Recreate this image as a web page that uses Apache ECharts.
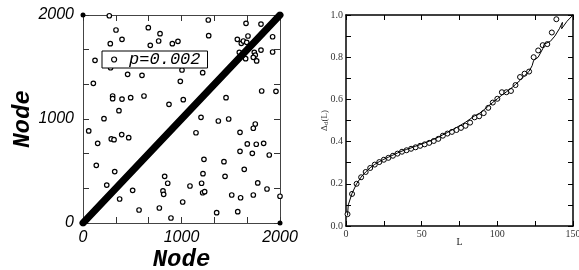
<!DOCTYPE html>
<html>
<head>
<meta charset="utf-8">
<script src="https://cdn.jsdelivr.net/npm/echarts@6.0.0/dist/echarts.min.js"></script>
<style>
html,body{margin:0;padding:0;background:#fff;}
#chart{width:579px;height:270px;}
</style>
</head>
<body>
<div id="chart"></div>
<script>
// left panel: shortcut links (node i -> node j) and the ring diagonal
var diagonal = [[0, 0], [2000, 2000]];
var cornerDots = [[0, 2000], [2000, 0]];
var shortcutPairs = [
  [267,1993],[335,1856],[663,1878],[782,1820],[1272,1952],[1276,1801],[1655,1920],[1807,1913],
  [396,1766],[277,1724],[683,1708],[768,1750],[907,1724],[964,1747],[1567,1766],[1607,1728],
  [1628,1750],[1662,1737],[1675,1798],[1587,1641],[1651,1580],[1739,1641],[1749,1615],[1729,1593],
  [1763,1558],[1807,1663],[1925,1791],[1925,1644],[122,1564],[280,1493],[453,1430],[599,1420],
  [1005,1471],[988,1362],[1215,1445],[105,1343],[301,1221],[301,1195],[396,1192],[484,1205],
  [619,1221],[1018,1186],[873,1141],[365,1080],[1452,1205],[1814,1269],[1959,1266],[213,1003],
  [1198,1016],[1374,981],[1479,1000],[1749,952],[1729,911],[1594,872],[58,885],[393,850],
  [1147,868],[149,766],[287,808],[315,801],[464,820],[135,555],[322,494],[241,365],
  [372,231],[504,314],[569,125],[775,144],[829,449],[860,382],[812,308],[819,276],
  [893,48],[1012,202],[1086,356],[1228,612],[1218,474],[1204,382],[1215,291],[1235,301],
  [1357,99],[1431,590],[1442,449],[1510,269],[1594,689],[1668,760],[1637,516],[1600,243],
  [1571,109],[1719,670],[1759,757],[1834,766],[1774,385],[1729,269],[1868,327],[1891,654],
  [2000,257]
];
var nodeLabels = [0, 1000, 2000];

// right panel: Delta_d(L)
var circleL = [1,4,7,10,13,16,19,22,25,28,31,34,37,40,43,46,49,52,55,58,61,64,67,70,73,76,79,82,85,88,
  91,94,97,100,103,106,109,112,115,118,121,124,127,130,133,136,139];
var circleDelta = [0.056,0.152,0.200,0.231,0.256,0.275,0.291,0.303,0.314,0.323,0.333,0.343,0.352,0.359,
  0.366,0.373,0.380,0.387,0.394,0.403,0.413,0.428,0.438,0.446,0.455,0.465,0.475,0.490,0.515,0.520,
  0.535,0.560,0.585,0.603,0.634,0.634,0.640,0.668,0.706,0.722,0.732,0.800,0.832,0.857,0.862,0.917,0.980];
var curveL = [1,1.5,4,7,10,13,16,19,22,25,28,31,34,37,40,43,46,49,52,55,58,61,64,67,70,73,76,79,82,85,86,
  88,91,94,97,100,103,106,109,112,115,118,121,123,124,125,127,130,131,132,135,138,141,143,142.5,146,150];
var curveDelta = [0.05,0.1,0.155,0.2,0.232,0.256,0.276,0.292,0.305,0.316,0.326,0.336,0.346,0.355,0.363,
  0.37,0.378,0.386,0.394,0.402,0.411,0.421,0.432,0.443,0.455,0.467,0.479,0.492,0.507,0.522,0.53,
  0.533,0.55,0.568,0.586,0.603,0.62,0.636,0.652,0.671,0.69,0.712,0.733,0.76,0.785,0.78,0.8,0.84,0.862,
  0.855,0.875,0.9,0.935,0.965,0.935,0.97,1.0];
var lLabels = [0, 50, 100, 150];
var deltaLabels = [0, 0.2, 0.4, 0.6, 0.8, 1.0];

function zip(a, b) {
  return a.map(function (v, i) { return [v, b[i]]; });
}

// only print a label when the tick sits on one of the listed values
function pick(list, digits) {
  return function (v) {
    for (var i = 0; i < list.length; i++) {
      if (Math.abs(v - list[i]) < 1e-6 * Math.max(1, Math.abs(list[i]))) {
        return digits ? list[i].toFixed(digits) : String(list[i]);
      }
    }
    return '';
  };
}

var chart = echarts.init(document.getElementById('chart'));

var leftLabel = {fontFamily: 'Liberation Sans', fontStyle: 'italic', fontSize: 16, color: '#000'};
var nodeName = {fontFamily: 'Liberation Mono', fontWeight: 'bold', fontStyle: 'italic', fontSize: 24, color: '#000'};
var rightLabel = {fontFamily: 'Liberation Serif', fontSize: 10, color: '#333'};

function leftAxis(extra) {
  var base = {
    type: 'value', gridIndex: 0, min: 0, max: 2000, interval: 2000 / 6,
    splitLine: {show: false},
    axisLine: {show: true, onZero: false, lineStyle: {color: '#444', width: 1}},
    axisTick: {show: true, inside: true, length: 6, lineStyle: {color: '#333'}},
    axisLabel: {show: false}
  };
  return Object.assign(base, extra);
}

function rightAxis(extra) {
  var base = {
    type: 'value', gridIndex: 1,
    splitLine: {show: false},
    axisLine: {show: true, onZero: false, lineStyle: {color: '#000', width: 1.5}},
    axisTick: {show: true, inside: true, length: 5, lineStyle: {color: '#000'}},
    axisLabel: {show: false}
  };
  return Object.assign(base, extra);
}

var option = {
  backgroundColor: '#fff',
  animation: false,
  grid: [
    {left: 83, top: 15, width: 197, height: 208, outerBoundsMode: 'none'},
    {left: 346, top: 15, width: 227, height: 211, outerBoundsMode: 'none'}
  ],
  legend: {
    data: [{name: 'p=0.002', icon: 'circle'}],
    left: 102, top: 51,
    itemWidth: 20, itemHeight: 5,
    padding: [0, 7, 0, 9],
    borderColor: '#000', borderWidth: 1,
    backgroundColor: '#fff',
    itemStyle: {color: '#fff', borderColor: '#000', borderWidth: 1.2},
    textStyle: {fontFamily: 'Liberation Mono', fontStyle: 'italic', fontSize: 17, color: '#000', lineHeight: 16}
  },
  xAxis: [
    leftAxis({position: 'bottom',
      axisLabel: Object.assign({show: true, margin: 7, showMinLabel: true, showMaxLabel: true,
        formatter: pick(nodeLabels)}, leftLabel),
      name: 'Node', nameLocation: 'middle', nameGap: 25, nameMoveOverlap: false, nameTextStyle: nodeName}),
    leftAxis({position: 'top'}),
    rightAxis({min: 0, max: 150, interval: 25, position: 'bottom',
      axisLabel: Object.assign({show: true, margin: 3, showMinLabel: true, showMaxLabel: true,
        formatter: pick(lLabels)}, rightLabel),
      name: 'L', nameLocation: 'middle', nameGap: 11, nameMoveOverlap: false,
      nameTextStyle: {fontFamily: 'Liberation Serif', fontSize: 10, color: '#222'}}),
    rightAxis({min: 0, max: 150, interval: 25, position: 'top'})
  ],
  yAxis: [
    leftAxis({position: 'left',
      axisLabel: Object.assign({show: true, margin: 9, showMinLabel: true, showMaxLabel: true,
        formatter: pick(nodeLabels)}, leftLabel),
      name: 'Node', nameLocation: 'middle', nameGap: 48, nameMoveOverlap: false, nameTextStyle: nodeName}),
    leftAxis({position: 'right'}),
    rightAxis({min: 0, max: 1, interval: 0.1, position: 'left',
      axisLabel: Object.assign({show: true, margin: 3, showMinLabel: true, showMaxLabel: true,
        formatter: pick(deltaLabels, 1)}, rightLabel),
      name: '{a|\u0394}{s|d}{a|(L)}', nameLocation: 'middle', nameGap: 16, nameMoveOverlap: false,
      nameTextStyle: {rich: {
        a: {fontFamily: 'Liberation Serif', fontSize: 9, color: '#333'},
        s: {fontFamily: 'Liberation Serif', fontSize: 7, color: '#333', verticalAlign: 'bottom', padding: [4, 0, 0, 0]}
      }}}),
    rightAxis({min: 0, max: 1, interval: 0.1, position: 'right'})
  ],
  series: [
    {
      name: 'p=0.002', type: 'scatter', xAxisIndex: 0, yAxisIndex: 0,
      symbol: 'circle', symbolSize: 4.5, z: 2,
      itemStyle: {color: '#fff', borderColor: '#000', borderWidth: 1.2, opacity: 1},
      data: shortcutPairs
    },
    {
      name: 'ring', type: 'line', xAxisIndex: 0, yAxisIndex: 0,
      showSymbol: false, z: 3,
      lineStyle: {color: '#000', width: 7, cap: 'round'},
      data: diagonal
    },
    {
      name: 'corners', type: 'scatter', xAxisIndex: 0, yAxisIndex: 0,
      symbol: 'circle', symbolSize: 5, z: 4,
      itemStyle: {color: '#000', opacity: 1},
      data: cornerDots
    },
    {
      name: 'theory', type: 'line', xAxisIndex: 2, yAxisIndex: 2,
      showSymbol: false, z: 3,
      lineStyle: {color: '#000', width: 1},
      data: zip(curveL, curveDelta)
    },
    {
      name: 'simulation', type: 'scatter', xAxisIndex: 2, yAxisIndex: 2,
      symbol: 'circle', symbolSize: 5, z: 2,
      itemStyle: {color: '#fff', borderColor: '#000', borderWidth: 1, opacity: 1},
      data: zip(circleL, circleDelta)
    }
  ]
};

chart.setOption(option);
</script>
</body>
</html>
